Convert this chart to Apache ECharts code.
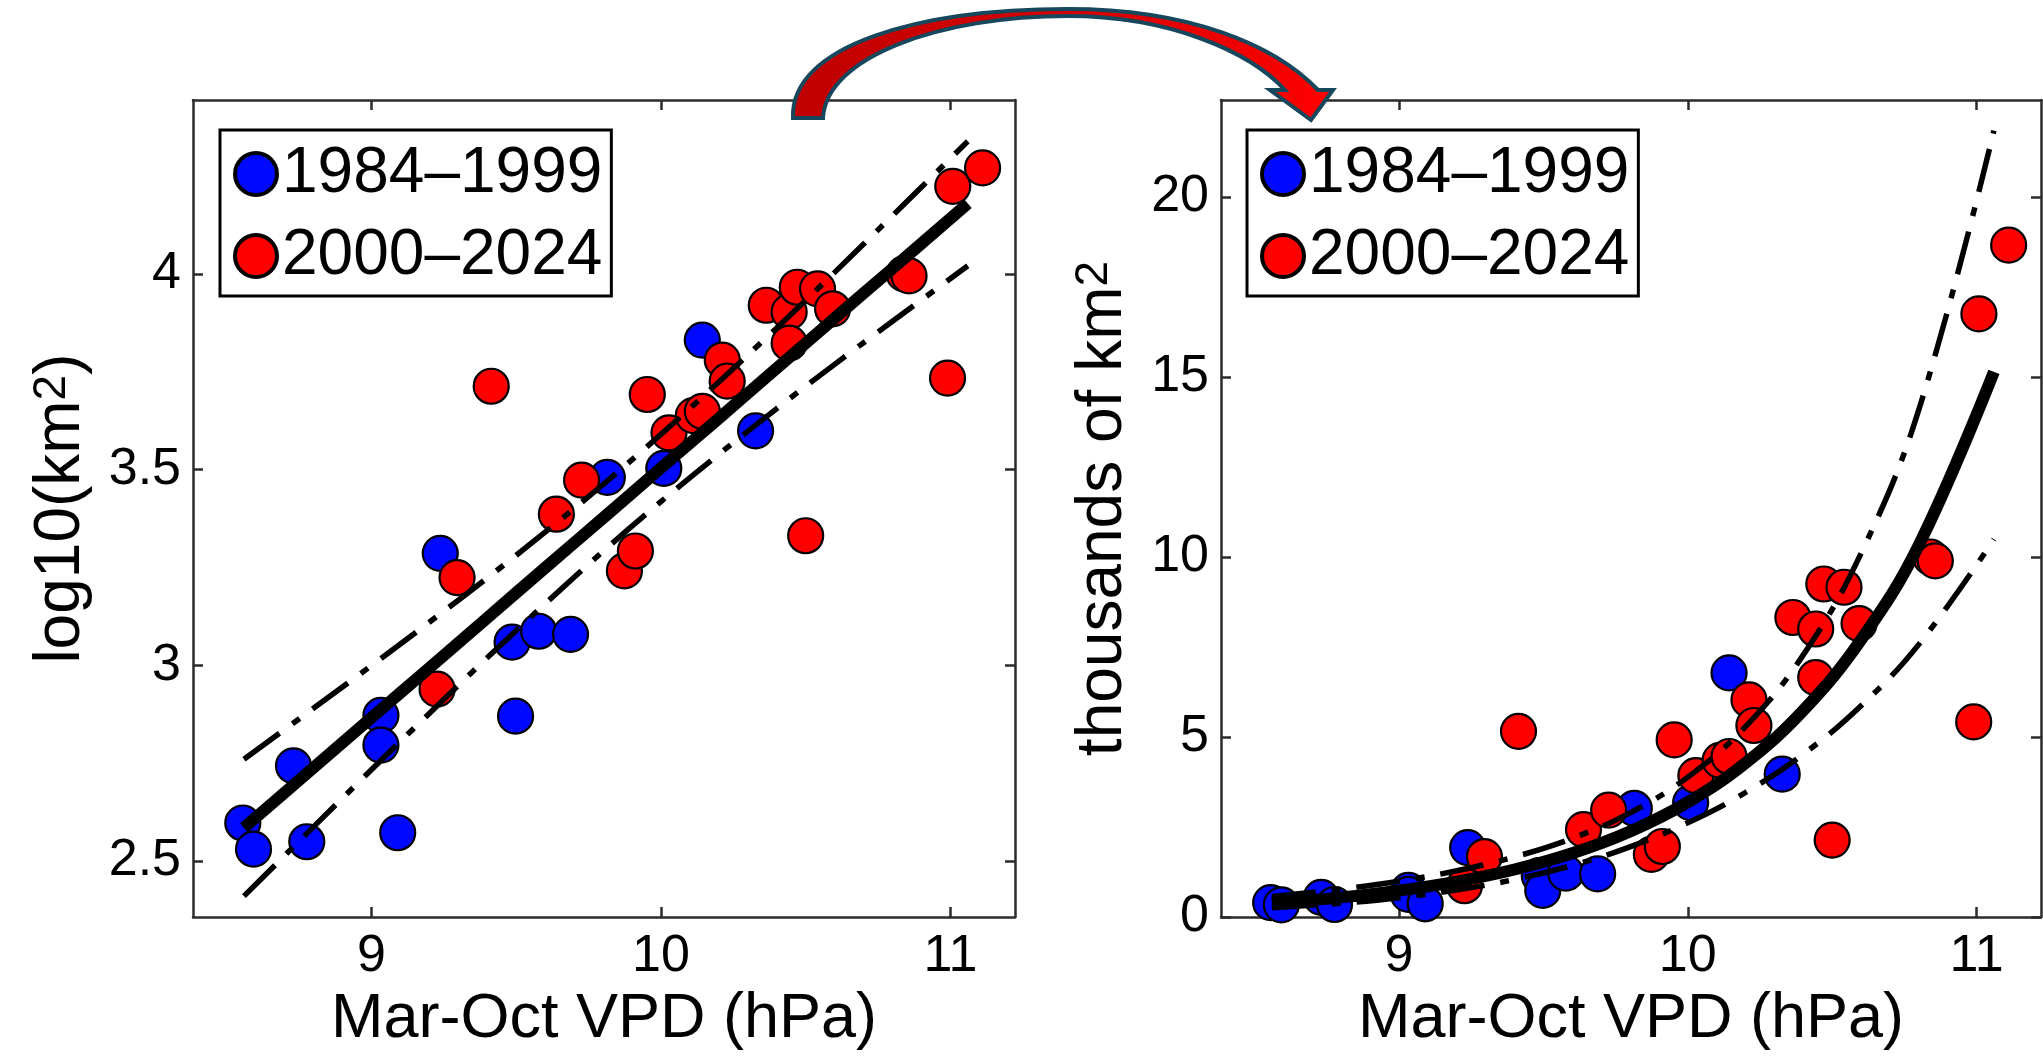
<!DOCTYPE html>
<html>
<head>
<meta charset="utf-8">
<script src="https://cdn.jsdelivr.net/npm/echarts@6/dist/echarts.min.js"></script>
<style>
  html, body { margin: 0; padding: 0; background: #fff; }
  #chart { width: 2043px; height: 1056px; }
</style>
</head>
<body>
<div id="chart"></div>
<script>
// observations, 1984-1999
const vpdBlue  = [8.556, 8.593, 8.731, 8.777, 9.033, 9.033, 9.091, 9.238, 9.486, 9.498, 9.578, 9.688, 9.815, 10.010, 10.143, 10.327]
const logBlue  = [2.597, 2.530, 2.743, 2.549, 2.872, 2.796, 2.572, 3.286, 3.059, 2.870, 3.087, 3.079, 3.480, 3.503, 3.831, 3.599]
const areaBlue = [0.40, 0.34, 0.55, 0.35, 0.74, 0.63, 0.37, 1.93, 1.15, 0.74, 1.22, 1.20, 3.02, 3.18, 6.78, 3.97]

// observations, 2000-2024
const vpdRed  = [9.227, 9.296, 9.414, 9.639, 9.726, 9.874, 9.912, 9.953, 10.028, 10.112, 10.143, 10.212, 10.229,
                 10.364, 10.443, 10.443, 10.471, 10.500, 10.541, 10.593, 10.840, 10.857, 10.990, 11.008, 11.111]
const logRed  = [2.939, 3.224, 3.713, 3.386, 3.473, 3.241, 3.292, 3.692, 3.594, 3.638, 3.649, 3.780, 3.726,
                 3.920, 3.903, 3.823, 3.966, 3.331, 3.962, 3.911, 4.000, 3.995, 3.734, 4.224, 4.271]
const areaRed = [0.87, 1.68, 5.16, 2.43, 2.97, 1.74, 1.96, 4.92, 3.93, 4.35, 4.46, 6.03, 5.32,
                 8.32, 8.00, 6.65, 9.25, 2.14, 9.16, 8.15, 10.00, 9.89, 5.42, 16.75, 18.66]

// regression line and its bands
const fitVpd    = [8.56, 8.8, 9.0, 9.2, 9.4, 9.6, 9.8, 10.0, 10.2, 10.4, 10.6, 10.8, 11.06]
const fitLog    = [2.585, 2.738, 2.866, 2.993, 3.121, 3.249, 3.376, 3.504, 3.631, 3.759, 3.887, 4.014, 4.180]
const upperLog  = [2.760, 2.890, 2.999, 3.110, 3.223, 3.340, 3.462, 3.590, 3.724, 3.862, 4.004, 4.149, 4.339]
const lowerLog  = [2.410, 2.587, 2.733, 2.877, 3.019, 3.157, 3.291, 3.418, 3.539, 3.656, 3.769, 3.879, 4.021]
const fitArea   = [0.385, 0.547, 0.734, 0.985, 1.321, 1.772, 2.377, 3.189, 4.279, 5.740, 7.701, 10.33, 15.14]
const upperArea = [0.575, 0.776, 0.997, 1.287, 1.671, 2.187, 2.895, 3.887, 5.290, 7.282, 10.10, 14.09, 21.84]
const lowerArea = [0.257, 0.386, 0.540, 0.753, 1.044, 1.436, 1.952, 2.617, 3.460, 4.525, 5.870, 7.574, 10.49]

const names = ['1984–1999', '2000–2024']
const xTicks = [9, 10, 11]
const logTicks = [2.5, 3, 3.5, 4]
const areaTicks = [0, 5, 10, 15, 20]

const FONT = "'Liberation Sans', Arial, Helvetica, sans-serif"
const AXIS_COLOR = '#2b2b2b'
const BLUE = '#0008ff'
const RED = '#ff0000'

const pairs = (xs, ys) => xs.map((x, i) => [x, ys[i]])

// box-style axis: ticks pointing inward on all four sides
const boxAxis = (extra) => Object.assign({
  type: 'value',
  axisLine: { show: true, onZero: false, lineStyle: { color: AXIS_COLOR, width: 2.5 } },
  axisTick: { show: true, inside: true, length: 10, lineStyle: { color: AXIS_COLOR, width: 2.5 } },
  splitLine: { show: false },
  axisLabel: { show: false }
}, extra)

const tickSet = (ticks, labelOpts) => ({
  axisTick: { show: true, inside: true, length: 10, customValues: ticks, lineStyle: { color: AXIS_COLOR, width: 2.5 } },
  axisLabel: Object.assign({
    show: true, customValues: ticks, color: '#000', fontFamily: FONT, fontSize: 52,
    formatter: (v) => (ticks.some(t => Math.abs(t - v) < 1e-6) ? String(v) : '')
  }, labelOpts)
})

const nameStyle = {
  fontFamily: FONT, fontSize: 64, color: '#000',
  rich: {
    b: { fontFamily: FONT, fontSize: 64, color: '#000' },
    s: { fontFamily: FONT, fontSize: 46, color: '#000', verticalAlign: 'top' }
  }
}

const X_MIN = 8.384, X_MAX = 11.223

const xAxes = []
const yAxes = []
;[0, 1].forEach((gi) => {
  xAxes.push(boxAxis(Object.assign({
    gridIndex: gi, position: 'bottom', min: X_MIN, max: X_MAX, splitNumber: 3,
    name: 'Mar-Oct VPD (hPa)', nameLocation: 'middle', nameGap: 62,
    nameTextStyle: { fontFamily: FONT, fontSize: 63, color: '#000' }
  }, tickSet(xTicks, { margin: 14 }))))
  xAxes.push(boxAxis({
    gridIndex: gi, position: 'top', min: X_MIN, max: X_MAX, splitNumber: 3,
    axisTick: { show: true, inside: true, length: 10, customValues: xTicks, lineStyle: { color: AXIS_COLOR, width: 2.5 } }
  }))
})

yAxes.push(boxAxis(Object.assign({
  gridIndex: 0, position: 'left', min: 2.3565, max: 4.4445, splitNumber: 4,
  name: '{b|log10(km}{s|2}{b|)}', nameLocation: 'middle', nameRotate: 90, nameGap: 100,
  nameTextStyle: nameStyle
}, tickSet(logTicks, { margin: 12 }))))
yAxes.push(boxAxis({
  gridIndex: 0, position: 'right', min: 2.3565, max: 4.4445, splitNumber: 4,
  axisTick: { show: true, inside: true, length: 10, customValues: logTicks, lineStyle: { color: AXIS_COLOR, width: 2.5 } }
}))
yAxes.push(boxAxis(Object.assign({
  gridIndex: 1, position: 'left', min: 0, max: 22.69, splitNumber: 4,
  name: '{b|thousands of km}{s|2}', nameLocation: 'middle', nameRotate: 90, nameGap: 86,
  nameTextStyle: nameStyle
}, tickSet(areaTicks, { margin: 12 }))))
yAxes.push(boxAxis({
  gridIndex: 1, position: 'right', min: 0, max: 22.69, splitNumber: 4,
  axisTick: { show: true, inside: true, length: 10, customValues: areaTicks, lineStyle: { color: AXIS_COLOR, width: 2.5 } }
}))

const dotStyle = (color) => ({ color: color, borderColor: '#000', borderWidth: 2.2, opacity: 1 })
const dashDot = { color: '#000', width: 5.5, type: [44, 16, 9, 16], cap: 'butt' }
const fitLine = { color: '#000', width: 12 }

const scatter = (name, data, color, xi, yi) => ({
  name: name, type: 'scatter', xAxisIndex: xi, yAxisIndex: yi, data: data,
  symbol: 'circle', symbolSize: 35, itemStyle: dotStyle(color), z: 2
})
const curve = (data, style, xi, yi) => ({
  type: 'line', xAxisIndex: xi, yAxisIndex: yi, data: data, showSymbol: false, symbol: 'none',
  smooth: 0.4, lineStyle: style, z: 3, silent: true
})

const series = [
  scatter(names[0], pairs(vpdBlue, logBlue), BLUE, 0, 0),
  scatter(names[1], pairs(vpdRed, logRed), RED, 0, 0),
  curve(pairs(fitVpd, upperLog), dashDot, 0, 0),
  curve(pairs(fitVpd, lowerLog), dashDot, 0, 0),
  curve(pairs(fitVpd, fitLog), fitLine, 0, 0),

  scatter(names[0], pairs(vpdBlue, areaBlue), BLUE, 2, 2),
  scatter(names[1], pairs(vpdRed, areaRed), RED, 2, 2),
  curve(pairs(fitVpd, upperArea), dashDot, 2, 2),
  curve(pairs(fitVpd, lowerArea), dashDot, 2, 2),
  curve(pairs(fitVpd, fitArea), fitLine, 2, 2)
]

const legendBox = (left) => ({
  data: names, orient: 'vertical', left: left, top: 130,
  padding: [12, 9, 8, 13], itemGap: 18, itemWidth: 42, itemHeight: 42, itemTextGap: 8,
  icon: 'circle', selectedMode: false,
  backgroundColor: '#fff', borderColor: '#000', borderWidth: 3,
  itemStyle: { borderColor: '#000', borderWidth: 4 },
  textStyle: { fontFamily: FONT, fontSize: 64, lineHeight: 63, color: '#000' }
})

// curved arrow linking the two panels
const arrowPath =
  'M793,118 C790,45 920,9 1068,9 C1190,9 1275,45 1318,90 ' +
  'L1333,90 L1311,120 L1270,90 L1285,90 ' +
  'C1250,52 1170,16 1068,16 C940,16 826,57 823,118 Z'
echarts.graphic.registerShape('linkArrow', echarts.graphic.extendPath(arrowPath, {}))

const chart = echarts.init(document.getElementById('chart'))
chart.setOption({
  animation: false,
  backgroundColor: '#fff',
  grid: [
    { left: 193, top: 100, width: 822, height: 823 },
    { left: 1221, top: 100, width: 820, height: 823 }
  ],
  xAxis: xAxes,
  yAxis: yAxes,
  legend: [legendBox(220), legendBox(1247)],
  series: series,
  graphic: [{
    type: 'linkArrow', z: 100,
    style: {
      fill: new echarts.graphic.LinearGradient(0, 0, 1, 0, [
        { offset: 0, color: '#c00000' },
        { offset: 0.55, color: '#d80000' },
        { offset: 1, color: '#ff0000' }
      ]),
      stroke: '#17475c', lineWidth: 4
    }
  }]
})
</script>
</body>
</html>
